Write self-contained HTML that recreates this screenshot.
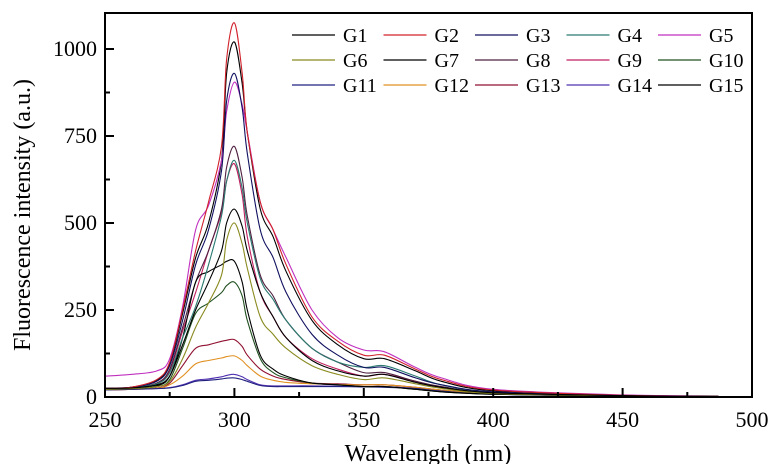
<!DOCTYPE html>
<html><head><meta charset="utf-8"><style>
body{margin:0;background:#fff}
svg text{font-family:"Liberation Serif",serif;fill:#000}
</style></head><body>
<svg id="c" width="784" height="464"></svg>
<script>
const wavelengths=[250,260,270,275,280,285,290,295,297,300,303,305,310,315,320,330,340,350,358,370,380,400,450,487];
const seriesNames=["G1","G2","G3","G4","G5","G6","G7","G8","G9","G10","G11","G12","G13","G14","G15"];
const seriesColors=["#000","#d0202a","#101060","#2a7a70","#c030c0","#8a8a20","#000","#502040","#c02060","#205020","#202080","#e09020","#901030","#5030b0","#000"];
const g1=[25,26,35,60,150,250,330,420,500,540,490,420,300,230,170,105,75,60,65,42,28,12,4,2];
const g2=[25,28,50,100,250,420,560,720,970,1075,930,760,560,480,380,230,160,120,120,80,50,20,5,2];
const g3=[25,28,45,90,220,380,480,650,850,930,830,700,480,400,300,180,120,85,85,55,35,15,4,2];
const g4=[25,27,38,70,170,260,380,520,620,680,600,500,340,280,220,140,100,85,90,60,35,14,4,2];
const g5=[60,65,75,110,260,480,550,680,820,905,840,760,560,480,400,250,170,135,130,85,55,22,6,3];
const g6=[22,24,30,45,110,200,270,350,450,500,440,370,230,180,140,90,65,50,55,38,25,10,3,2];
const g7=[22,24,32,60,170,330,360,380,390,390,330,250,120,80,60,40,35,30,30,22,15,8,3,2];
const g8=[25,27,40,80,200,330,420,540,660,720,630,520,350,290,220,140,100,70,70,45,30,12,4,2];
const g9=[25,27,40,75,190,300,420,530,620,670,580,460,300,230,170,110,80,60,65,45,28,12,4,2];
const g10=[22,24,30,50,140,240,270,300,320,330,290,220,110,70,55,40,35,30,30,22,15,8,3,2];
const g11=[20,22,24,26,33,45,48,52,54,55,50,45,33,30,30,30,30,29,28,24,17,8,3,2];
const g12=[20,22,25,35,60,95,105,112,116,118,105,90,60,48,42,38,36,35,35,28,20,10,3,2];
const g13=[20,22,26,40,90,140,150,160,163,165,145,120,80,60,50,40,38,35,35,28,20,10,3,2];
const g14=[20,22,24,27,35,48,52,58,62,65,58,50,35,32,32,32,31,30,30,25,18,8,3,2];
const g15=[25,28,48,95,240,400,500,680,930,1020,900,760,540,460,360,220,150,110,110,75,45,18,5,2];
const seriesValues=[g1,g2,g3,g4,g5,g6,g7,g8,g9,g10,g11,g12,g13,g14,g15];
const xTicks=[250,300,350,400,450,500];
const yTicks=[0,250,500,750,1000];

const NS="http://www.w3.org/2000/svg";
const svg=document.getElementById('c');
const L=105,R=752,T=13,B=397;
const x=v=>L+(v-250)/250*(R-L);
const y=v=>B-v*0.348;
function mk(t,a){const e=document.createElementNS(NS,t);for(const k in a)e.setAttribute(k,a[k]);svg.appendChild(e);return e;}
function smooth(pts){
  let d='M'+pts[0][0].toFixed(1)+','+pts[0][1].toFixed(1);
  for(let i=0;i<pts.length-1;i++){
    const p0=pts[Math.max(0,i-1)],p1=pts[i],p2=pts[i+1],p3=pts[Math.min(pts.length-1,i+2)];
    const c1x=p1[0]+(p2[0]-p0[0])/6,c1y=p1[1]+(p2[1]-p0[1])/6;
    const c2x=p2[0]-(p3[0]-p1[0])/6,c2y=p2[1]-(p3[1]-p1[1])/6;
    d+='C'+c1x.toFixed(1)+','+c1y.toFixed(1)+' '+c2x.toFixed(1)+','+c2y.toFixed(1)+' '+p2[0].toFixed(1)+','+p2[1].toFixed(1);
  }
  return d;
}
for(let s=seriesValues.length-1;s>=0;s--){
  const pts=seriesValues[s].map((v,i)=>[x(wavelengths[i]),y(v)]);
  const p=mk('path',{d:smooth(pts),fill:'none',stroke:seriesColors[s],'stroke-width':1.1,'stroke-linejoin':'round'});
  
  
}
const fr=mk('rect',{x:L,y:T,width:R-L,height:B-T,fill:'none',stroke:'#000','stroke-width':2});


xTicks.forEach((v,i)=>{
  mk('line',{x1:x(v),x2:x(v),y1:B,y2:B-9,stroke:'#000','stroke-width':2});
  if(i<xTicks.length-1){const m=v+25;mk('line',{x1:x(m),x2:x(m),y1:B,y2:B-5,stroke:'#000','stroke-width':2});}
  const t=mk('text',{x:x(v),y:427,'text-anchor':'middle','font-size':22});
  t.textContent=v;
  
  
});
yTicks.forEach((v,i)=>{
  mk('line',{x1:L,x2:L+9,y1:y(v),y2:y(v),stroke:'#000','stroke-width':2});
  if(v<1000) mk('line',{x1:L,x2:L+5,y1:y(v+125),y2:y(v+125),stroke:'#000','stroke-width':2});
  const t=mk('text',{x:97,y:y(v)+7,'text-anchor':'end','font-size':22});
  t.textContent=v;
  
  
});
const xt=mk('text',{x:428,y:461,'text-anchor':'middle','font-size':24});
xt.textContent='Wavelength (nm)';


const yt=mk('text',{x:0,y:0,'text-anchor':'middle','font-size':24,transform:'translate(30,215) rotate(-90)'});
yt.textContent='Fluorescence intensity (a.u.)';


seriesNames.forEach((n,i)=>{
  const c=i%5,r=Math.floor(i/5);
  const lx=292+c*91.5,ly=35+r*25;
  mk('line',{x1:lx,x2:lx+43,y1:ly,y2:ly,stroke:seriesColors[i],'stroke-width':1.2});
  const t=mk('text',{x:lx+51,y:ly+7,'font-size':20});
  t.textContent=n;
  
  
});
</script>
</body></html>
